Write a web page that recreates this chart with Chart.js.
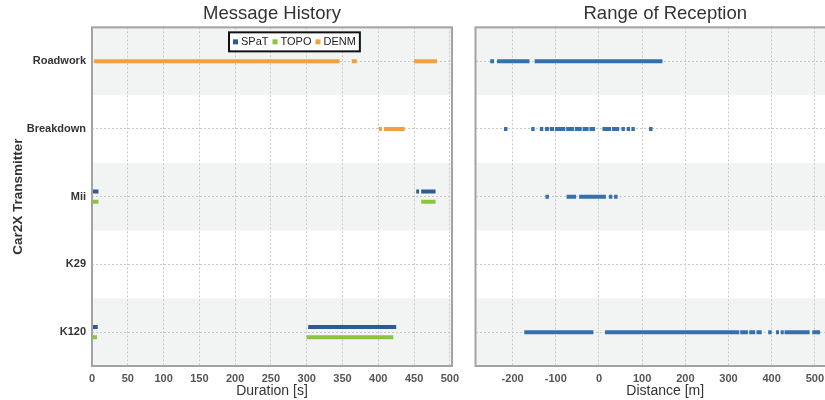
<!DOCTYPE html>
<html><head><meta charset="utf-8">
<script src="https://cdn.jsdelivr.net/npm/chart.js@4/dist/chart.umd.min.js"></script>
<style>
html,body{margin:0;padding:0;background:#fff;overflow:hidden;width:825px;height:400px;}
#wrapL{position:absolute;left:0;top:0;width:460px;height:400px;}
#wrapR{position:absolute;left:460px;top:0;width:400px;height:400px;}
</style></head><body>
<div id="wrapL"><canvas id="left" width="460" height="400"></canvas></div>
<div id="wrapR"><canvas id="right" width="400" height="400"></canvas></div>
<script>
// ---------- data ----------
const categories = ['Roadwork', 'Breakdown', 'Mii', 'K29', 'K120'];
const seriesNames = ['SPaT', 'TOPO', 'DENM'];
const seriesColors = ['#2d5b92', '#8cc43f', '#f0a23e'];
const receptionColor = '#3570ad';
// [transmitter, start s, end s]
const spatHistory = [['Mii', 0, 9], ['Mii', 453, 457], ['Mii', 460, 480], ['K120', 0, 8], ['K120', 302, 425]];
const topoHistory = [['Mii', 0, 9], ['Mii', 460, 480], ['K120', 0, 7], ['K120', 300, 421]];
const denmHistory = [['Roadwork', 3, 346], ['Roadwork', 363, 370], ['Roadwork', 450, 482], ['Breakdown', 401, 405], ['Breakdown', 408, 437]];
// [transmitter, from m, to m]
const receptionRanges = [
  ['Roadwork', -252, -243], ['Roadwork', -236, -161], ['Roadwork', -149, 147],
  ['Breakdown', -220, -212], ['Breakdown', -157, -149], ['Breakdown', -137, -129], ['Breakdown', -125, -116],
  ['Breakdown', -114, -104], ['Breakdown', -102, -78], ['Breakdown', -76, -58], ['Breakdown', -56, -40],
  ['Breakdown', -38, -24], ['Breakdown', -22, -9], ['Breakdown', 8, 28], ['Breakdown', 30, 47],
  ['Breakdown', 52, 60], ['Breakdown', 64, 72], ['Breakdown', 75, 83], ['Breakdown', 116, 124],
  ['Mii', -124, -116], ['Mii', -75, -53], ['Mii', -46, 16], ['Mii', 23, 31], ['Mii', 35, 43],
  ['K120', -173, -13], ['K120', 14, 325], ['K120', 327, 345], ['K120', 348, 362], ['K120', 365, 377],
  ['K120', 392, 400], ['K120', 410, 417], ['K120', 421, 428], ['K120', 430, 488], ['K120', 494, 512]
];
const durationTicks = [0, 50, 100, 150, 200, 250, 300, 350, 400, 450, 500];
const distanceTicks = [-200, -100, 0, 100, 200, 300, 400, 500];

// ---------- helpers ----------
const FONT = "'Liberation Sans', Arial, sans-serif";
Chart.defaults.font.family = FONT;
const seriesOffsets = [-0.075, 0.075, 0];

function segments(list, offset, color, label) {
  return list.map(([cat, a, b]) => {
    const yi = categories.indexOf(cat) + offset;
    return {
      label: label, data: [{x: a, y: yi}, {x: b, y: yi}],
      borderColor: color, backgroundColor: color, borderWidth: 4,
      borderCapStyle: 'butt', pointRadius: 0, pointHoverRadius: 0, tension: 0, fill: false
    };
  });
}

const bandPlugin = {
  id: 'bands',
  beforeDraw(chart) {
    const {ctx, chartArea: a, scales: {y}} = chart;
    ctx.save();
    categories.forEach((c, i) => {
      if (i % 2 === 0) {
        const t = y.getPixelForValue(i - 0.5), b = y.getPixelForValue(i + 0.5);
        ctx.fillStyle = '#f2f3f3';
        ctx.fillRect(a.left, Math.min(t, b), a.right - a.left, Math.abs(b - t));
      }
    });
    ctx.restore();
  },
  afterDraw(chart) {
    const {ctx, chartArea: a} = chart;
    ctx.save();
    ctx.strokeStyle = '#a3a3a3';
    ctx.lineWidth = 2;
    ctx.strokeRect(a.left, a.top, a.right - a.left, a.bottom - a.top);
    ctx.restore();
  }
};

const legendPlugin = {
  id: 'boxLegend',
  afterDraw(chart) {
    const {ctx, chartArea: a} = chart;
    ctx.save();
    ctx.font = '11px ' + FONT;
    const left = a.left + 137, top = a.top + 5, h = 19;
    let x = left + 4;
    const items = seriesNames.map((n, i) => {
      const it = {sx: x, tx: x + 8, name: n, color: seriesColors[i]};
      x = x + 8 + ctx.measureText(n).width + 4;
      return it;
    });
    const w = x - left;
    ctx.fillStyle = '#fff';
    ctx.fillRect(left, top, w, h);
    ctx.strokeStyle = '#111';
    ctx.lineWidth = 2;
    ctx.strokeRect(left, top, w, h);
    ctx.textBaseline = 'middle';
    items.forEach(it => {
      ctx.fillStyle = it.color;
      ctx.fillRect(it.sx, top + h / 2 - 2.5, 5, 5);
      ctx.fillStyle = '#222';
      ctx.fillText(it.name, it.tx, top + h / 2 + 0.5);
    });
    ctx.restore();
  }
};

function yScale(showLabels, width) {
  return {
    type: 'linear', reverse: true, min: -0.5, max: 4.5,
    afterBuildTicks: s => { s.ticks = categories.map((c, i) => ({value: i})); },
    afterFit: s => { s.width = width; s.paddingTop = 0; s.paddingBottom = 0; },
    ticks: {display: showLabels, callback: v => categories[v], font: {size: 11, weight: 'bold'}, color: '#333', padding: 6, autoSkip: false},
    grid: {color: '#c9c9c9', lineWidth: 1, drawTicks: false},
    border: {display: false, dash: [2, 2]},
    title: {display: showLabels, text: 'Car2X Transmitter', font: {size: 13.5, weight: 'bold'}, color: '#333', padding: {top: 10, bottom: 0}}
  };
}
function xScale(min, max, ticks, title) {
  return {
    type: 'linear', min: min, max: max,
    afterBuildTicks: s => { s.ticks = ticks.map(v => ({value: v})); },
    afterFit: s => { s.height = 34; s.paddingLeft = 0; s.paddingRight = 0; },
    ticks: {font: {size: 11, weight: 'bold'}, color: '#555', padding: 6, maxRotation: 0, autoSkip: false},
    grid: {color: '#c9c9c9', lineWidth: 1, drawTicks: false},
    border: {display: false, dash: [2, 2]},
    title: {display: true, text: title, font: {size: 14}, color: '#333', padding: {top: 0, bottom: 0}}
  };
}
function titleOpts(text) {
  return {display: true, text: text, fullSize: false, font: {size: 18.5, weight: 'normal', lineHeight: 1.1}, color: '#333', padding: {top: 4, bottom: 3}};
}

const leftDatasets = [].concat(
  segments(spatHistory, seriesOffsets[0], seriesColors[0], seriesNames[0]),
  segments(topoHistory, seriesOffsets[1], seriesColors[1], seriesNames[1]),
  segments(denmHistory, seriesOffsets[2], seriesColors[2], seriesNames[2])
);

new Chart(document.getElementById('left'), {
  type: 'line',
  data: {datasets: leftDatasets},
  options: {
    responsive: false, animation: false,
    layout: {padding: {left: 0, right: 8, top: 0, bottom: 0}},
    plugins: {legend: {display: false}, tooltip: {enabled: false}, title: titleOpts('Message History')},
    scales: {x: xScale(0, 503, durationTicks, 'Duration [s]'), y: yScale(true, 92)}
  },
  plugins: [bandPlugin, legendPlugin]
});

new Chart(document.getElementById('right'), {
  type: 'line',
  data: {datasets: segments(receptionRanges, 0, receptionColor, 'Reception')},
  options: {
    responsive: false, animation: false,
    layout: {padding: {left: 0, right: 5, top: 0, bottom: 0}},
    plugins: {legend: {display: false}, tooltip: {enabled: false}, title: titleOpts('Range of Reception')},
    scales: {x: xScale(-286, 593, distanceTicks, 'Distance [m]'), y: yScale(false, 15.5)}
  },
  plugins: [bandPlugin]
});
</script>
</body></html>
